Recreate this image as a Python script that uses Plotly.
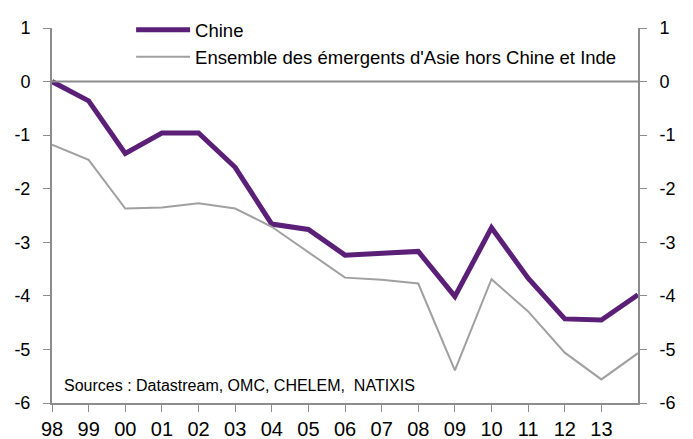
import plotly.graph_objects as go

years = ["98", "99", "00", "01", "02", "03", "04", "05", "06", "07",
         "08", "09", "10", "11", "12", "13", "14"]
tick_labels = years[:-1]

chine = [0.0, -0.36, -1.34, -0.96, -0.96, -1.60, -2.66, -2.76, -3.24, -3.20,
         -3.17, -4.01, -2.73, -3.67, -4.43, -4.45, -3.98]
emergents = [-1.18, -1.46, -2.37, -2.35, -2.27, -2.37, -2.71, -3.18, -3.66, -3.70,
             -3.77, -5.39, -3.69, -4.29, -5.06, -5.56, -5.07]

yticks = [1, 0, -1, -2, -3, -4, -5, -6]
ytick_labels = ["1", "0", "-1", "-2", "-3", "-4", "-5", "-6"]

x = list(range(len(years)))
axis_col = "#8c8c8c"
family = "Liberation Sans, Arial, sans-serif"

fig = go.Figure()
fig.add_trace(go.Scatter(x=x, y=chine, mode="lines", name="Chine",
                         legendgroup="a",
                         line=dict(color="#5b1f78", width=5)))
fig.add_trace(go.Scatter(x=x, y=emergents, mode="lines",
                         name="Ensemble des émergents d'Asie hors Chine et Inde",
                         legendgroup="b",
                         line=dict(color="#a0a0a0", width=2)))
# invisible trace to carry the right axis
fig.add_trace(go.Scatter(x=[x[0]], y=[0], yaxis="y2", mode="lines",
                         showlegend=False, hoverinfo="skip",
                         line=dict(color="rgba(0,0,0,0)")))

yaxis_common = dict(range=[-6, 1], tickvals=yticks, ticktext=ytick_labels,
                    showgrid=False, automargin=False,
                    showline=True, linecolor=axis_col, linewidth=2,
                    ticks="outside", ticklen=7, tickcolor=axis_col, tickwidth=1,
                    ticklabelstandoff=9,
                    tickfont=dict(family=family, size=18, color="#000"),
                    zeroline=False)

# the page body adds 8px on the left and top, so the figure is 8px smaller
fig.update_layout(
    width=685, height=431,
    margin=dict(l=44, r=55, t=20, b=36, autoexpand=False),
    plot_bgcolor="white", paper_bgcolor="white",
    font=dict(family=family, size=17, color="#000"),
    xaxis=dict(range=[0, 16], tickvals=x[:-1], ticktext=tick_labels,
               showgrid=False, automargin=False,
               showline=True, linecolor=axis_col, linewidth=2,
               ticks="outside", ticklen=7, tickcolor=axis_col, tickwidth=1,
               tickfont=dict(family=family, size=20, color="#000"),
               zeroline=False),
    yaxis=dict(**yaxis_common, side="left"),
    yaxis2=dict(**yaxis_common, side="right", overlaying="y"),
    legend=dict(x=0.135, y=1.045, xanchor="left", yanchor="top",
                bgcolor="rgba(0,0,0,0)", font=dict(size=18.5),
                itemwidth=54, tracegroupgap=0),
    showlegend=True,
)

fig.add_hline(y=0, line=dict(color=axis_col, width=2))

fig.add_annotation(text="Sources : Datastream, OMC, CHELEM,  NATIXIS",
                   xref="paper", yref="paper", x=0.017, y=0.018,
                   xanchor="left", yanchor="bottom", showarrow=False,
                   font=dict(size=16))

fig.write_html("out.html")
